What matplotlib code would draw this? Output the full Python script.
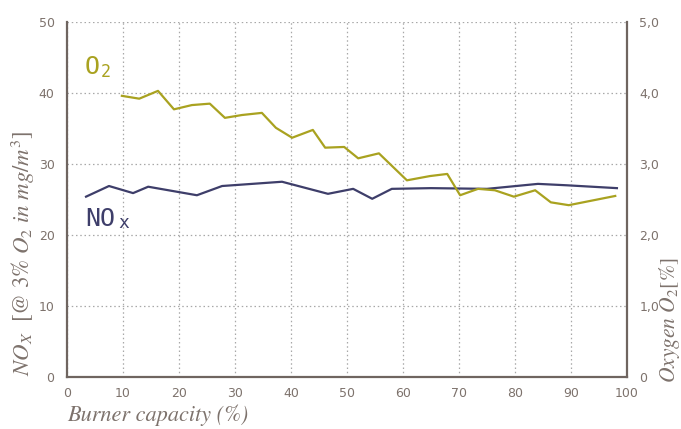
import matplotlib
matplotlib.use("Agg")
import matplotlib.pyplot as plt

plt.rcParams['mathtext.fontset'] = 'stix'

# Data
nox_x = [3.4, 7.5, 11.8, 14.5, 23.2, 27.7, 38.4, 46.6, 51.1, 54.5, 58.0, 65.0, 75.0, 84.1, 89.3, 98.2]
nox_y = [25.4, 26.9, 25.9, 26.8, 25.6, 26.9, 27.5, 25.8, 26.5, 25.1, 26.5, 26.6, 26.5, 27.2, 27.0, 26.6]

o2_x = [9.8, 12.9, 16.25, 19.1, 22.3, 25.5, 28.2, 31.25, 34.8, 37.3, 40.2, 43.9, 46.1, 49.5,
        52.0, 55.7, 60.7, 64.8, 67.9, 70.2, 73.4, 76.4, 79.8, 83.6, 86.4, 89.6, 97.9]
o2_y = [3.96, 3.92, 4.03, 3.77, 3.83, 3.85, 3.65, 3.69, 3.72, 3.51, 3.37, 3.48, 3.23, 3.24,
        3.08, 3.15, 2.77, 2.83, 2.86, 2.56, 2.65, 2.63, 2.54, 2.63, 2.46, 2.42, 2.55]

x_ticks = [0, 10, 20, 30, 40, 50, 60, 70, 80, 90, 100]
y_ticks = [0, 10, 20, 30, 40, 50]
y2_ticks = [0, 1, 2, 3, 4, 5]
y2_labels = ['0', '1,0', '2,0', '3,0', '4,0', '5,0']

OLIVE = '#a9a220'
NAVY = '#3e3e6a'
TXT = '#7d726c'
SPINE = '#6f6560'
GRID = '#a8a8a8'
LBLFONT = 'DejaVu Sans Mono'

fig = plt.figure(figsize=(6.81, 4.29), dpi=100)
ax = fig.add_axes([67/681, 1-377/429, 560/681, 355/429])
ax2 = ax.twinx()

ax.plot(nox_x, nox_y, color=NAVY, lw=1.6, zorder=3)
ax2.plot(o2_x, o2_y, color=OLIVE, lw=1.6, zorder=3)

ax.set_xlim(0, 100)
ax.set_ylim(0, 50)
ax2.set_ylim(0, 5)
ax.set_xticks(x_ticks)
ax.set_yticks(y_ticks)
ax2.set_yticks(y2_ticks)
ax2.set_yticklabels(y2_labels)

for a in (ax, ax2):
    a.tick_params(length=0, colors=TXT, labelsize=9)
    for s in a.spines.values():
        s.set_visible(False)
ax.tick_params(axis='y', pad=9)
ax.tick_params(axis='x', pad=7)
ax2.tick_params(axis='y', pad=9)

ax.spines['left'].set_visible(True)
ax.spines['bottom'].set_visible(True)
ax2.spines['right'].set_visible(True)
for s in (ax.spines['left'], ax.spines['bottom'], ax2.spines['right']):
    s.set_color(SPINE)
    s.set_linewidth(1.6)

ax.grid(True, linestyle=(0, (1.2, 2.2)), color=GRID, lw=0.9)
ax.set_axisbelow(True)

ax.text(3.2, 43.6, 'O', color=OLIVE, fontsize=18, va='center', ha='left', family=LBLFONT)
ax.text(6.0, 43.0, '2', color=OLIVE, fontsize=12, va='center', ha='left', family=LBLFONT)
ax.text(3.3, 22.3, 'NO', color=NAVY, fontsize=18, va='center', ha='left', family=LBLFONT)
ax.text(9.1, 21.7, 'x', color=NAVY, fontsize=13, va='center', ha='left', family=LBLFONT)

fig.text(67/681, 1-415/429, 'Burner capacity (%)', fontsize=16, style='italic',
         family='STIXGeneral', color=TXT, ha='left', va='center')
fig.text(23/681, 1-253/429, r'$NO_X\ \ [@\ 3\%\ O_2\ in\ mg/m^3]$', fontsize=16.5,
         color=TXT, rotation=90, ha='center', va='center')
fig.text(670/681, 1-320/429, r'$Oxygen\ O_2[\%]$', fontsize=15.5,
         color=TXT, rotation=90, ha='center', va='center')

fig.savefig('out.png', dpi=100)
